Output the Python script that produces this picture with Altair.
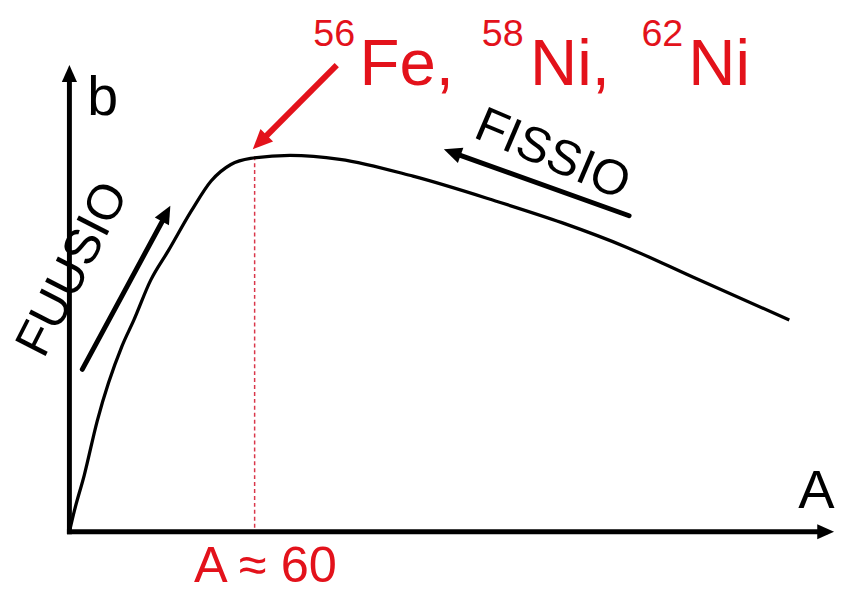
import altair as alt
import pandas as pd

# ---- data (A = mass number, b = binding energy per nucleon, schematic) ----
curve_A = [0, 1.6, 4.8, 9.0, 17.0, 20.9, 26.3, 32.1, 39.5, 45.9, 52.3, 58.7, 71.5, 87.6, 111.3, 138.0, 159.5, 180.6, 202.1, 233.2]
curve_b = [0, 0.48, 1.30, 2.55, 4.27, 4.88, 5.79, 6.48, 7.39, 8.08, 8.46, 8.60, 8.67, 8.58, 8.19, 7.62, 7.12, 6.55, 5.86, 4.88]

# axis lines (start -> end) and arrow tips
axis_A  = [0, 0];      axis_b  = [0, 0]
axis_A2 = [0, 244.8];  axis_b2 = [10.52, 0]

peak_A = [60]; peak_b = [8.65]

# annotation arrows: shaft start / end
arrow_A  = [4.17, 181.3];  arrow_b  = [3.74, 7.28]
arrow_A2 = [31.06, 124.6]; arrow_b2 = [7.28, 8.72]
red_A = [86.6]; red_b = [10.75]; red_A2 = [62.1]; red_b2 = [9.0]

# arrow heads (tip positions)
head_A     = [0, 247.7, 32.7, 121.3, 59.4]
head_b     = [10.75, 0, 7.51, 8.81, 8.81]
head_angle = [0, 90, 28.4, 289.9, 225]
head_size  = [1156, 1156, 1296, 1296, 1600]

RED = "#e3121b"
head_color = ["black", "black", "black", "black", RED]

# texts
lt_text  = ["b", "A", "56", "Fe,", "58", "Ni,", "62", "Ni"]
lt_A     = [5.8, 236.1, 79.0, 94.0, 133.6, 149.2, 185.3, 200.5]
lt_b     = [9.6, 0.55, 11.2, 10.29, 11.2, 10.29, 11.2, 10.29]
lt_size  = [56, 55, 38, 66, 38, 66, 38, 66]
lt_color = ["black", "black", RED, RED, RED, RED, RED, RED]

ct_text  = ["A ≈ 60", "FUUSIO", "FISSIO"]
ct_A     = [63.5, 5.45, 154.6]
ct_b     = [-1.16, 5.89, 8.37]
ct_size  = [51, 50, 50]
ct_angle = [0, 297, 23]
ct_color = [RED, "black", "black"]

FONT = "Liberation Sans"
XS = alt.Scale(domain=[0, 248])
YS = alt.Scale(domain=[0, 12])


def X(f):
    return alt.X(f, type="quantitative", scale=XS, axis=None)


def Y(f):
    return alt.Y(f, type="quantitative", scale=YS, axis=None)


axes = alt.Chart(pd.DataFrame({"A": axis_A, "b": axis_b, "A2": axis_A2, "b2": axis_b2})).mark_rule(
    color="black", strokeWidth=5, strokeCap="square"
).encode(x=X("A"), y=Y("b"), x2="A2", y2="b2")

peak = alt.Chart(pd.DataFrame({"A": peak_A, "b": peak_b, "b0": [0]})).mark_rule(
    color="#d9364a", strokeWidth=1.5, strokeDash=[4, 3]
).encode(x=X("A"), y=Y("b"), y2="b0")

curve = alt.Chart(pd.DataFrame({"A": curve_A, "b": curve_b})).mark_line(
    color="black", strokeWidth=3.3, interpolate="monotone"
).encode(x=X("A"), y=Y("b"))

shafts = alt.Chart(pd.DataFrame({"A": arrow_A, "b": arrow_b, "A2": arrow_A2, "b2": arrow_b2})).mark_rule(
    color="black", strokeWidth=5, strokeCap="round"
).encode(x=X("A"), y=Y("b"), x2="A2", y2="b2")

red_shaft = alt.Chart(pd.DataFrame({"A": red_A, "b": red_b, "A2": red_A2, "b2": red_b2})).mark_rule(
    color=RED, strokeWidth=6, strokeCap="butt"
).encode(x=X("A"), y=Y("b"), x2="A2", y2="b2")

heads = alt.Chart(pd.DataFrame({"A": head_A, "b": head_b, "ang": head_angle,
                                "sz": head_size, "col": head_color})).mark_point(
    shape="M0,0L0.45,1L-0.45,1Z", filled=True, opacity=1, strokeWidth=0
).encode(
    x=X("A"), y=Y("b"),
    angle=alt.Angle("ang:Q", scale=None),
    size=alt.Size("sz:Q", scale=None),
    color=alt.Color("col:N", scale=None),
)

left_texts = alt.Chart(pd.DataFrame({"A": lt_A, "b": lt_b, "t": lt_text,
                                     "sz": lt_size, "col": lt_color})).mark_text(
    align="left", baseline="alphabetic", font=FONT
).encode(
    x=X("A"), y=Y("b"), text="t:N",
    size=alt.Size("sz:Q", scale=None),
    color=alt.Color("col:N", scale=None),
)

center_texts = alt.Chart(pd.DataFrame({"A": ct_A, "b": ct_b, "t": ct_text, "sz": ct_size,
                                       "ang": ct_angle, "col": ct_color})).mark_text(
    align="center", baseline="alphabetic", font=FONT
).encode(
    x=X("A"), y=Y("b"), text="t:N",
    size=alt.Size("sz:Q", scale=None),
    angle=alt.Angle("ang:Q", scale=None),
    color=alt.Color("col:N", scale=None),
)

chart = alt.layer(peak, curve, axes, shafts, red_shaft, heads, left_texts, center_texts).properties(
    width=773, height=526,
    autosize=alt.AutoSizeParams(type="none"),
    padding={"left": 62, "top": 0, "right": 0, "bottom": 58},
    background="white",
).configure_view(stroke=None)

chart.save("out.html", embed_options={"renderer": "svg", "actions": False})
